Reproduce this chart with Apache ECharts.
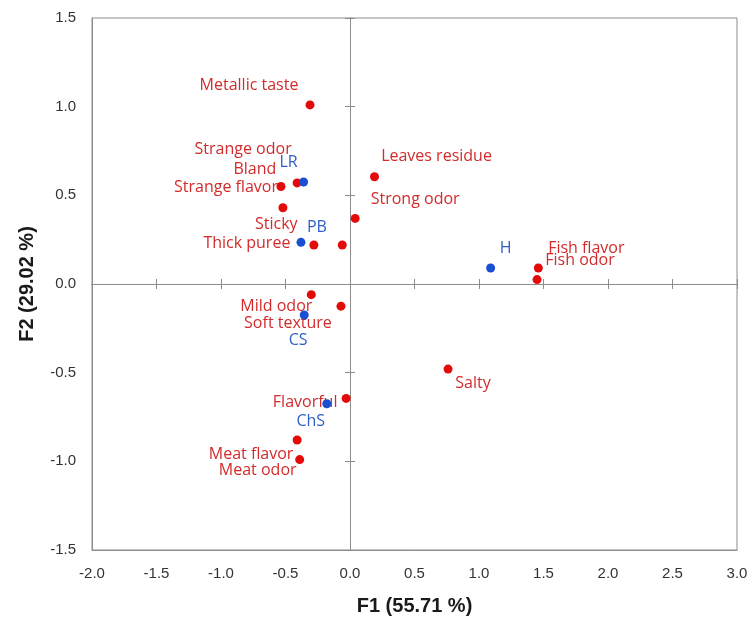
<!DOCTYPE html>
<html>
<head>
<meta charset="utf-8">
<script src="https://cdn.jsdelivr.net/npm/echarts@6/dist/echarts.min.js"></script>
<style>
  html, body { margin: 0; padding: 0; background: #ffffff; }
  #chart { width: 752px; height: 621px; }
</style>
</head>
<body>
<div id="chart"></div>
<script>
// Sensory attributes (variables) projected on the F1/F2 plane
const attrNames = [
  'Metallic taste', 'Strange odor', 'Bland', 'Strange flavor', 'Sticky',
  'Thick puree', 'Strong odor', 'Leaves residue', 'Fish flavor', 'Fish odor',
  'Mild odor', 'Soft texture', 'Salty', 'Flavorful', 'Meat flavor', 'Meat odor'
];
const attrF1 = [-0.31, -0.41, -0.52, -0.535, -0.06, -0.28, 0.04, 0.19, 1.46, 1.45, -0.30, -0.07, 0.76, -0.03, -0.41, -0.39];
const attrF2 = [1.01, 0.57, 0.43, 0.55, 0.22, 0.22, 0.37, 0.605, 0.09, 0.025, -0.06, -0.125, -0.48, -0.645, -0.88, -0.99];

// Samples (observations)
const sampleNames = ['LR', 'PB', 'H', 'CS', 'ChS'];
const sampleF1 = [-0.36, -0.38, 1.09, -0.355, -0.18];
const sampleF2 = [0.575, 0.235, 0.09, -0.175, -0.675];

// Axis ranges and tick step
const f1Range = [-2.0, 3.0];
const f2Range = [-1.5, 1.5];
const tickStep = 0.5;
const f1Title = 'F1 (55.71 %)';
const f2Title = 'F2 (29.02 %)';

// Where each point's label sits relative to its marker (px, centre to centre)
const labelShift = {
  'Metallic taste': [-61, -19], 'Strange odor': [-54, -33], 'Bland': [-28, -38],
  'Strange flavor': [-55, 1], 'Sticky': [-66, -21], 'Thick puree': [-67, -2],
  'Strong odor': [60, -19], 'Leaves residue': [62, -20], 'Fish flavor': [48, -20],
  'Fish odor': [43, -19], 'Mild odor': [-35, 12], 'Soft texture': [-53, 17],
  'Salty': [25, 14], 'Flavorful': [-41, 4], 'Meat flavor': [-46, 14], 'Meat odor': [-42, 11],
  'LR': [-15, -20], 'PB': [16, -15], 'H': [15, -20], 'CS': [-6, 25], 'ChS': [-16, 18]
};

const RED = '#e30a0a', RED_TEXT = '#d32b2b';
const BLUE = '#1a4fd2', BLUE_TEXT = '#2f5fc6';
const AXIS_GREY = '#8c8c8c';
const axisFont = '"Liberation Sans", Arial, sans-serif';
const labelFont = '"Open Sans", "Liberation Sans", sans-serif';

function points(names, xs, ys, textColor) {
  return names.map((n, i) => ({
    name: n,
    value: [xs[i], ys[i]],
    label: {
      show: true,
      position: 'inside',
      offset: labelShift[n] || [0, 0],
      formatter: n,
      color: textColor,
      fontFamily: labelFont,
      fontSize: 16
    }
  }));
}

function zeroXAxis(pos) {
  return {
    type: 'value', position: pos, min: f1Range[0], max: f1Range[1], interval: tickStep,
    axisLine: { show: true, onZero: true, onZeroAxisIndex: 0, lineStyle: { color: AXIS_GREY, width: 1 } },
    axisTick: { show: true, inside: false, length: 5, lineStyle: { color: AXIS_GREY } },
    axisLabel: { show: false }, splitLine: { show: false }
  };
}
function zeroYAxis(pos) {
  return {
    type: 'value', position: pos, min: f2Range[0], max: f2Range[1], interval: tickStep,
    axisLine: { show: true, onZero: true, onZeroAxisIndex: 0, lineStyle: { color: AXIS_GREY, width: 1 } },
    axisTick: { show: true, inside: false, length: 5, lineStyle: { color: AXIS_GREY } },
    axisLabel: { show: false }, splitLine: { show: false }
  };
}

const chart = echarts.init(document.getElementById('chart'), null, { renderer: 'canvas' });
chart.setOption({
  animation: false,
  backgroundColor: '#ffffff',
  grid: { left: 92, right: 15, top: 18, bottom: 71, show: true, borderColor: AXIS_GREY, borderWidth: 1 },
  xAxis: [
    {
      type: 'value', position: 'bottom', min: f1Range[0], max: f1Range[1], interval: tickStep,
      axisLine: { show: true, onZero: false, lineStyle: { color: AXIS_GREY } },
      axisTick: { show: false },
      splitLine: { show: false },
      axisLabel: {
        margin: 16, color: '#333333', fontFamily: axisFont, fontSize: 15,
        formatter: v => v.toFixed(1)
      },
      name: f1Title, nameLocation: 'middle', nameGap: 46,
      nameTextStyle: { fontFamily: axisFont, fontWeight: 'bold', fontSize: 20, color: '#1a1a1a' }
    },
    zeroXAxis('bottom'),
    zeroXAxis('top')
  ],
  yAxis: [
    {
      type: 'value', position: 'left', min: f2Range[0], max: f2Range[1], interval: tickStep,
      axisLine: { show: true, onZero: false, lineStyle: { color: AXIS_GREY } },
      axisTick: { show: false },
      splitLine: { show: false },
      axisLabel: {
        margin: 16, color: '#333333', fontFamily: axisFont, fontSize: 15,
        formatter: v => v.toFixed(1)
      },
      name: f2Title, nameLocation: 'middle', nameGap: 55, nameRotate: 90,
      nameTextStyle: { fontFamily: axisFont, fontWeight: 'bold', fontSize: 20, color: '#1a1a1a' }
    },
    zeroYAxis('left'),
    zeroYAxis('right')
  ],
  series: [
    {
      name: 'Attributes', type: 'scatter', xAxisIndex: 0, yAxisIndex: 0,
      symbol: 'circle', symbolSize: 9,
      itemStyle: { color: RED, opacity: 1 },
      data: points(attrNames, attrF1, attrF2, RED_TEXT),
      z: 3
    },
    {
      name: 'Samples', type: 'scatter', xAxisIndex: 0, yAxisIndex: 0,
      symbol: 'circle', symbolSize: 9,
      itemStyle: { color: BLUE, opacity: 1 },
      data: points(sampleNames, sampleF1, sampleF2, BLUE_TEXT),
      z: 4
    }
  ]
});
</script>
</body>
</html>
